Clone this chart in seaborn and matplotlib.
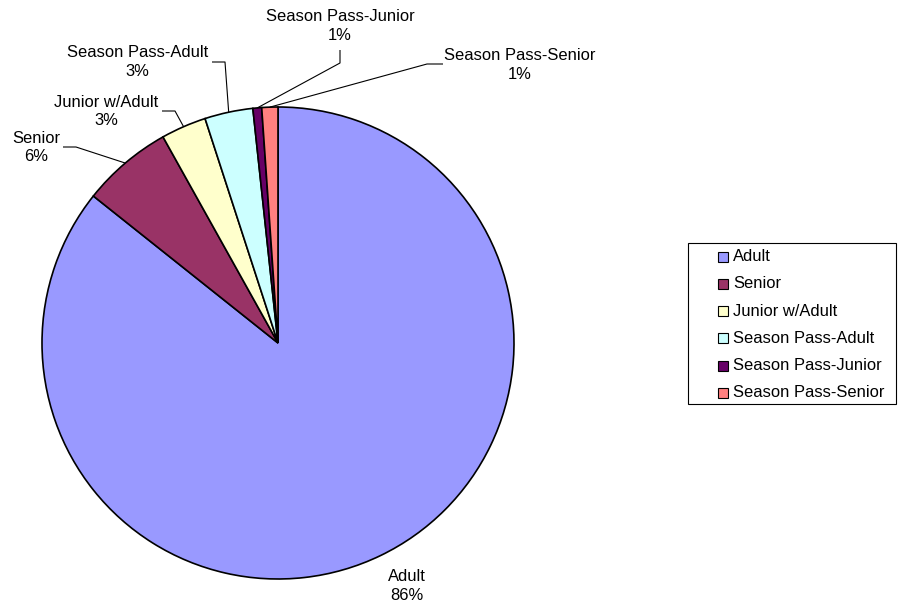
import matplotlib
matplotlib.use("Agg")
import matplotlib.pyplot as plt
from matplotlib.patches import Rectangle
import numpy as np
import seaborn as sns

# Ticket sales mix
categories = ["Adult", "Senior", "Junior w/Adult", "Season Pass-Adult",
              "Season Pass-Junior", "Season Pass-Senior"]
shares = [85.7, 6.2, 3.1, 3.3, 0.6, 1.1]
colors = ["#9999FF", "#993366", "#FFFFCC", "#CCFFFF", "#660066", "#FF8080"]

# Layout in figure pixels (y measured from the top edge)
W, H = 907, 608
pie_center = (278, 343)
pie_radius = 236
label_pos = [(407, 586), (36, 147.5), (106, 111.5), (137.5, 62), (340, 26), (520, 65)]
leader_pts = [None,
              [(63, 147), (76, 147)],
              [(162, 111), (175, 111)],
              [(212, 62), (225, 62)],
              [(340, 50), (340, 63)],
              [(443, 64), (427, 64)]]

sns.set_theme(style="white")
plt.rcParams["font.family"] = ["Liberation Sans", "DejaVu Sans"]
FS = 11.9

fig = plt.figure(figsize=(W / 100, H / 100), dpi=100)
fig.patch.set_facecolor("white")
ax = fig.add_axes([0, 0, 1, 1])

def flip(p):
    return (p[0], H - p[1])

wedges, _ = ax.pie(shares, colors=colors, startangle=90, counterclock=False,
                   center=flip(pie_center), radius=pie_radius,
                   wedgeprops=dict(edgecolor="black", linewidth=1.2))
ax.set_xlim(0, W)
ax.set_ylim(0, H)
ax.set_aspect("auto")
ax.axis("off")

total = sum(shares)
cx, cy = flip(pie_center)
for w, name, val, pos, lead in zip(wedges, categories, shares, label_pos, leader_pts):
    pct = int(round(val / total * 100))
    x, y = flip(pos)
    ax.text(x, y, f"{name}\n{pct}%", ha="center", va="center",
            fontsize=FS, color="black", linespacing=1.33)
    if lead is not None:
        mid = np.deg2rad((w.theta1 + w.theta2) / 2)
        rim = (cx + pie_radius * np.cos(mid), cy + pie_radius * np.sin(mid))
        pts = [flip(p) for p in lead] + [rim]
        xs, ys = zip(*pts)
        ax.plot(xs, ys, color="black", linewidth=0.8, solid_capstyle="butt")

# Legend box with square swatches
box_l, box_t, box_r, box_b = 688, 243, 896, 404
ax.add_patch(Rectangle((box_l, H - box_b), box_r - box_l, box_b - box_t,
                       facecolor="white", edgecolor="black", linewidth=0.8))
row0, step = 256.7, 27.2
for i, (name, c) in enumerate(zip(categories, colors)):
    yc = H - (row0 + i * step)
    ax.add_patch(Rectangle((718, yc - 5), 10, 10, facecolor=c,
                           edgecolor="black", linewidth=0.8))
    ax.text(733, yc, name, ha="left", va="center", fontsize=FS, color="black")

fig.savefig("out.png", dpi=100, facecolor="white")
